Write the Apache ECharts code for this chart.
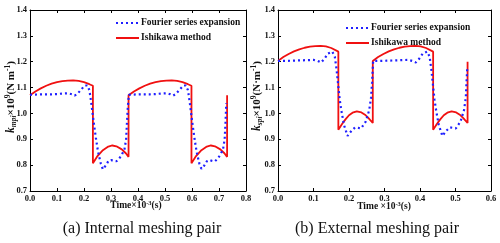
<!DOCTYPE html>
<html>
<head>
<meta charset="utf-8">
<script src="https://cdn.jsdelivr.net/npm/echarts@6/dist/echarts.min.js"></script>
<style>html,body{margin:0;padding:0;background:#fff}#c{width:500px;height:243px}</style>
</head>
<body>
<div id="c"></div>
<script>
// ---- data (time ×10^-3 s, stiffness ×10^9 N/m) ----
const yTicks = [0.7, 0.8, 0.9, 1.0, 1.1, 1.2, 1.3, 1.4];
const xTicksInternal = [0.0, 0.1, 0.2, 0.3, 0.4, 0.5, 0.6, 0.7, 0.8];
const xTicksExternal = [0.0, 0.1, 0.2, 0.3, 0.4, 0.5, 0.6];
const seriesNames = ['Fourier series expansion', 'Ishikawa method'];

const internalIshikawa = [
  [0,1.070],[0.02,1.085],[0.04,1.097],[0.06,1.107],[0.08,1.115],[0.10,1.121],[0.12,1.125],[0.14,1.127],
  [0.16,1.128],[0.18,1.126],[0.20,1.121],[0.22,1.113],[0.233,1.107],
  [0.233,0.807],[0.25,0.835],[0.27,0.858],[0.29,0.872],[0.305,0.876],[0.32,0.873],[0.34,0.861],[0.355,0.846],[0.365,0.832],
  [0.365,1.070],[0.385,1.085],[0.405,1.097],[0.425,1.107],[0.445,1.115],[0.465,1.121],[0.485,1.125],[0.505,1.127],
  [0.525,1.128],[0.545,1.126],[0.565,1.121],[0.585,1.113],[0.598,1.107],
  [0.598,0.807],[0.615,0.835],[0.635,0.858],[0.655,0.872],[0.670,0.876],[0.685,0.873],[0.705,0.861],[0.720,0.846],[0.730,0.832],
  [0.730,1.070]
];
const internalFourier = [
  [0,1.072],[0.02,1.073],[0.04,1.074],[0.06,1.074],[0.08,1.074],[0.10,1.075],[0.12,1.077],[0.14,1.078],[0.155,1.074],
  [0.165,1.069],[0.175,1.075],[0.19,1.093],[0.203,1.108],[0.212,1.108],[0.22,1.09],[0.227,1.04],[0.233,0.99],
  [0.238,0.95],[0.244,0.905],[0.252,0.852],[0.262,0.807],[0.27,0.784],[0.28,0.798],[0.29,0.815],[0.30,0.82],
  [0.31,0.816],[0.32,0.815],[0.33,0.825],[0.34,0.84],[0.35,0.862],[0.356,0.9],[0.359,0.96],[0.362,1.02],[0.366,1.072],
  [0.385,1.073],[0.405,1.074],[0.425,1.074],[0.445,1.074],[0.465,1.075],[0.485,1.077],[0.505,1.078],[0.52,1.074],
  [0.53,1.069],[0.54,1.075],[0.555,1.093],[0.568,1.108],[0.577,1.108],[0.585,1.09],[0.592,1.04],[0.598,0.99],
  [0.603,0.95],[0.609,0.905],[0.617,0.852],[0.627,0.807],[0.635,0.786],[0.645,0.798],[0.655,0.815],[0.665,0.82],
  [0.675,0.816],[0.685,0.815],[0.695,0.825],[0.705,0.84],[0.715,0.862],[0.721,0.9],[0.724,0.96],[0.727,1.04]
];
const externalIshikawa = [
  [0,1.203],[0.015,1.218],[0.03,1.23],[0.045,1.24],[0.06,1.248],[0.075,1.254],[0.09,1.258],[0.105,1.26],[0.12,1.261],
  [0.135,1.259],[0.15,1.253],[0.17,1.239],
  [0.17,0.937],[0.18,0.958],[0.19,0.977],[0.20,0.993],[0.21,1.003],[0.222,1.008],[0.235,1.004],[0.245,0.995],[0.255,0.982],[0.267,0.963],
  [0.267,1.203],[0.282,1.218],[0.297,1.23],[0.312,1.24],[0.327,1.248],[0.342,1.254],[0.357,1.258],[0.372,1.26],[0.387,1.261],
  [0.402,1.259],[0.417,1.253],[0.437,1.239],
  [0.437,0.937],[0.447,0.958],[0.457,0.977],[0.467,0.993],[0.477,1.003],[0.489,1.008],[0.502,1.004],[0.512,0.995],[0.522,0.982],[0.534,0.963],
  [0.534,1.200]
];
const externalFourier = [
  [0,1.203],[0.02,1.203],[0.04,1.204],[0.06,1.205],[0.08,1.206],[0.10,1.207],[0.112,1.203],[0.121,1.197],[0.13,1.21],
  [0.141,1.232],[0.153,1.239],[0.16,1.22],[0.165,1.17],[0.17,1.103],[0.174,1.052],[0.179,1.007],[0.186,0.955],
  [0.196,0.913],[0.207,0.933],[0.217,0.946],[0.226,0.944],[0.234,0.942],[0.247,0.968],[0.257,1.013],[0.262,1.06],
  [0.265,1.12],[0.268,1.203],
  [0.287,1.203],[0.307,1.204],[0.327,1.205],[0.347,1.206],[0.367,1.207],[0.379,1.203],[0.388,1.197],[0.397,1.21],
  [0.408,1.232],[0.42,1.239],[0.427,1.22],[0.432,1.17],[0.437,1.103],[0.441,1.052],[0.446,1.007],[0.453,0.955],
  [0.463,0.913],[0.474,0.933],[0.484,0.946],[0.493,0.944],[0.501,0.942],[0.514,0.968],[0.524,1.013],[0.529,1.06],
  [0.531,1.12],[0.533,1.174]
];

// ---- chart ----
const FONT = '"Liberation Serif", "Times New Roman", serif';
const BLUE = '#1f1fff', RED = '#f01010';
const chart = echarts.init(document.getElementById('c'), null, {renderer: 'canvas'});

function xAx(grid, ticks, pos, show) {
  return {
    type: 'value', gridIndex: grid, position: pos,
    min: ticks[0], max: ticks[ticks.length - 1], interval: 0.1,
    axisLine: {show: true, onZero: false, lineStyle: {color: '#000', width: 1}},
    axisTick: {show: true, inside: true, length: 3, lineStyle: {color: '#000'}},
    axisLabel: {show: show, color: '#111', fontFamily: FONT, fontWeight: 'bold', fontSize: 8.5, margin: 3,
      formatter: v => v.toFixed(1)},
    splitLine: {show: false}
  };
}
function yAx(grid, pos, show) {
  return {
    type: 'value', gridIndex: grid, position: pos,
    min: yTicks[0], max: yTicks[yTicks.length - 1], interval: 0.1,
    axisLine: {show: true, onZero: false, lineStyle: {color: '#000', width: 1}},
    axisTick: {show: true, inside: true, length: 3, lineStyle: {color: '#000'}},
    axisLabel: {show: show, color: '#111', fontFamily: FONT, fontWeight: 'bold', fontSize: 8.5, margin: 3,
      formatter: v => v.toFixed(1)},
    splitLine: {show: false}
  };
}
function fourier(data, xi, yi) {
  return {name: seriesNames[0], type: 'line', data: data, xAxisIndex: xi, yAxisIndex: yi,
    showSymbol: false, symbol: 'none', smooth: false, z: 3, legendIcon: 'none',
    lineStyle: {color: BLUE, width: 2.2, type: [2, 3]}, itemStyle: {color: BLUE}};
}
function ishikawa(data, xi, yi) {
  return {name: seriesNames[1], type: 'line', data: data, xAxisIndex: xi, yAxisIndex: yi,
    showSymbol: false, symbol: 'none', smooth: false, z: 2, legendIcon: 'none',
    lineStyle: {color: RED, width: 1.8}, itemStyle: {color: RED}};
}
const rich = {
  b: {fontFamily: FONT, fontWeight: 'bold', fontSize: 9.5, fill: '#111'},
  sup: {fontFamily: FONT, fontWeight: 'bold', fontSize: 6.5, fill: '#111', padding: [0, 0, 5, 0]}
};
const richY = {
  b: {fontFamily: FONT, fontWeight: 'bold', fontSize: 11, fill: '#111'},
  i: {fontFamily: FONT, fontWeight: 'bold', fontStyle: 'italic', fontSize: 11.5, fill: '#111'},
  sub: {fontFamily: FONT, fontWeight: 'bold', fontStyle: 'italic', fontSize: 7.5, fill: '#111', padding: [6, 0, 0, 0]},
  sup: {fontFamily: FONT, fontWeight: 'bold', fontSize: 7.5, fill: '#111', padding: [0, 0, 6, 0]}
};
const legendCommon = {
  orient: 'vertical', itemWidth: 23, itemHeight: 8, itemGap: 5,
  itemStyle: {color: 'transparent', borderWidth: 0, opacity: 0},
  textStyle: {fontFamily: FONT, fontWeight: 'bold', fontSize: 9.5, color: '#111', padding: [0, 0, 0, -3]},
  data: seriesNames, selectedMode: false
};

chart.setOption({
  animation: false,
  backgroundColor: '#fff',
  grid: [
    {left: 30, right: 254, top: 10, bottom: 52},
    {left: 278, right: 9, top: 10, bottom: 52}
  ],
  xAxis: [
    xAx(0, xTicksInternal, 'bottom', true), xAx(0, xTicksInternal, 'top', false),
    xAx(1, xTicksExternal, 'bottom', true), xAx(1, xTicksExternal, 'top', false)
  ],
  yAxis: [
    yAx(0, 'left', true), yAx(0, 'right', false),
    yAx(1, 'left', true), yAx(1, 'right', false)
  ],
  legend: [
    Object.assign({left: 110, top: 13}, legendCommon),
    Object.assign({left: 340, top: 18, itemGap: 4}, legendCommon)
  ],
  series: [
    ishikawa(internalIshikawa, 0, 0), fourier(internalFourier, 0, 0),
    ishikawa(externalIshikawa, 2, 2), fourier(externalFourier, 2, 2)
  ],
  graphic: [
    {type: 'text', x: 11, y: 97, rotation: Math.PI / 2,
      style: {text: '{i|k}{sub|mpi}{b|×10}{sup|9}{b|(N m}{sup|-1}{b|)}', rich: richY, align: 'center', verticalAlign: 'middle'}},
    {type: 'text', x: 257, y: 96, rotation: Math.PI / 2,
      style: {text: '{i|k}{sub|spi}{b|×10}{sup|9}{b|(N·m}{sup|-1}{b|)}', rich: richY, align: 'center', verticalAlign: 'middle'}},
    {type: 'text', x: 136, y: 206,
      style: {text: '{b|Time×10}{sup|-3}{b|(s)}', rich: rich, align: 'center', verticalAlign: 'middle'}},
    {type: 'text', x: 384, y: 207,
      style: {text: '{b|Time ×10}{sup|-3}{b|(s)}', rich: rich, align: 'center', verticalAlign: 'middle'}},
    {type: 'text', x: 142, y: 229,
      style: {text: '(a) Internal meshing pair', fontFamily: FONT, fontSize: 16, fill: '#111', align: 'center', verticalAlign: 'middle'}},
    {type: 'text', x: 377, y: 229,
      style: {text: '(b) External meshing pair', fontFamily: FONT, fontSize: 16, fill: '#111', align: 'center', verticalAlign: 'middle'}}
  ]
});
</script>
</body>
</html>
